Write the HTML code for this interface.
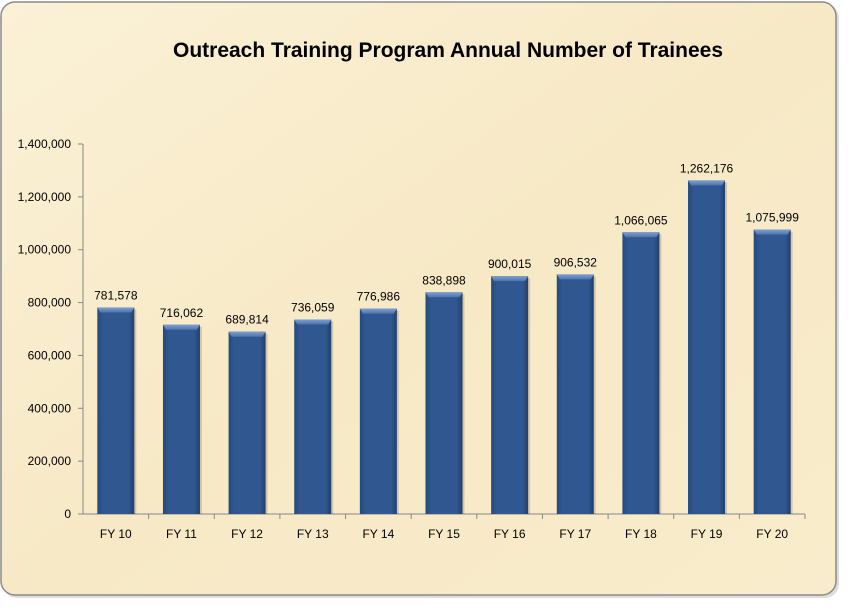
<!DOCTYPE html>
<html><head><meta charset="utf-8"><style>
body{margin:0;width:848px;height:606px;background:#fff;overflow:hidden;font-family:"Liberation Sans",sans-serif}
</style></head><body>
<svg width="848" height="606" xmlns="http://www.w3.org/2000/svg">
<defs>
<linearGradient id="bg" x1="0" y1="0" x2="1" y2="1"><stop offset="0" stop-color="#fbf1d6"/><stop offset="0.5" stop-color="#f7e9c6"/><stop offset="1" stop-color="#f9eccc"/></linearGradient>
<linearGradient id="bar" x1="0" y1="0" x2="1" y2="0"><stop offset="0" stop-color="#24497d"/><stop offset="0.15" stop-color="#30578f"/><stop offset="0.85" stop-color="#30578f"/><stop offset="1" stop-color="#213f6e"/></linearGradient>
<linearGradient id="top" x1="0" y1="0" x2="0" y2="1"><stop offset="0" stop-color="#7fa0d0"/><stop offset="1" stop-color="#4d74ad"/></linearGradient>
</defs>
<rect x="3" y="4" width="836" height="594" rx="14" fill="#bbb" opacity="0.5"/>
<rect x="1" y="2" width="835" height="593" rx="14" fill="url(#bg)" stroke="#8a8a8a" stroke-width="1.5"/>
<text x="448" y="57" text-anchor="middle" font-size="21" font-weight="bold" fill="#000">Outreach Training Program Annual Number of Trainees</text>
<g id="axes"></g><g id="bars"></g>
</svg>
<script>
const categories=["FY 10","FY 11","FY 12","FY 13","FY 14","FY 15","FY 16","FY 17","FY 18","FY 19","FY 20"];
const values=[781578,716062,689814,736059,776986,838898,900015,906532,1066065,1262176,1075999];
const yTicks=[0,200000,400000,600000,800000,1000000,1200000,1400000];
const NS="http://www.w3.org/2000/svg";
const x0=83,x1=805,y0=514,yTop=144,yMax=1400000;
const band=(x1-x0)/categories.length;
const y=v=>y0-(v/yMax)*(y0-yTop);
const xc=i=>x0+band*(i+0.5);
function mk(t,a,p){const e=document.createElementNS(NS,t);for(const k in a)e.setAttribute(k,a[k]);p.appendChild(e);return e;}
const ax=document.getElementById('axes'),bg=document.getElementById('bars');
const yl=mk('line',{x1:x0,y1:yTop,x2:x0,y2:y0,stroke:'#888'},ax);


const xl=mk('line',{x1:x0,y1:y0,x2:x1,y2:y0,stroke:'#888'},ax);


yTicks.forEach(v=>{
 mk('line',{x1:x0-5,y1:y(v),x2:x0,y2:y(v),stroke:'#888'},ax);
 const t=mk('text',{x:x0-12,y:y(v)+4,'text-anchor':'end','font-size':12,fill:'#000'},ax);
 t.textContent=v.toLocaleString('en-US');
 
 
});
const bw=37;
categories.forEach((c,i)=>{
 const cx=xc(i),top=y(values[i]);
 const g=mk('g',{},bg);
 
 
 mk('rect',{x:cx-bw/2+2,y:top+2,width:bw,height:y0-top-2,fill:'#000',opacity:0.15},g);
 mk('rect',{x:cx-bw/2,y:top,width:bw,height:y0-top,fill:'url(#bar)'},g);
 mk('polygon',{points:`${cx-bw/2},${top} ${cx+bw/2},${top} ${cx+bw/2-3},${top+5} ${cx-bw/2+3},${top+5}`,fill:'url(#top)'},g);
 const l=mk('text',{x:cx,y:top-8,'text-anchor':'middle','font-size':12,fill:'#000'},bg);
 l.textContent=values[i].toLocaleString('en-US');
 
 
 if(i>0) mk('line',{x1:x0+band*i,y1:y0,x2:x0+band*i,y2:y0+5,stroke:'#888'},ax);
 const xt=mk('text',{x:cx,y:538,'text-anchor':'middle','font-size':12,fill:'#000'},ax);
 xt.textContent=c;
 
 
});
mk('line',{x1:x1,y1:y0,x2:x1,y2:y0+5,stroke:'#888'},ax);
</script>
</body></html>
